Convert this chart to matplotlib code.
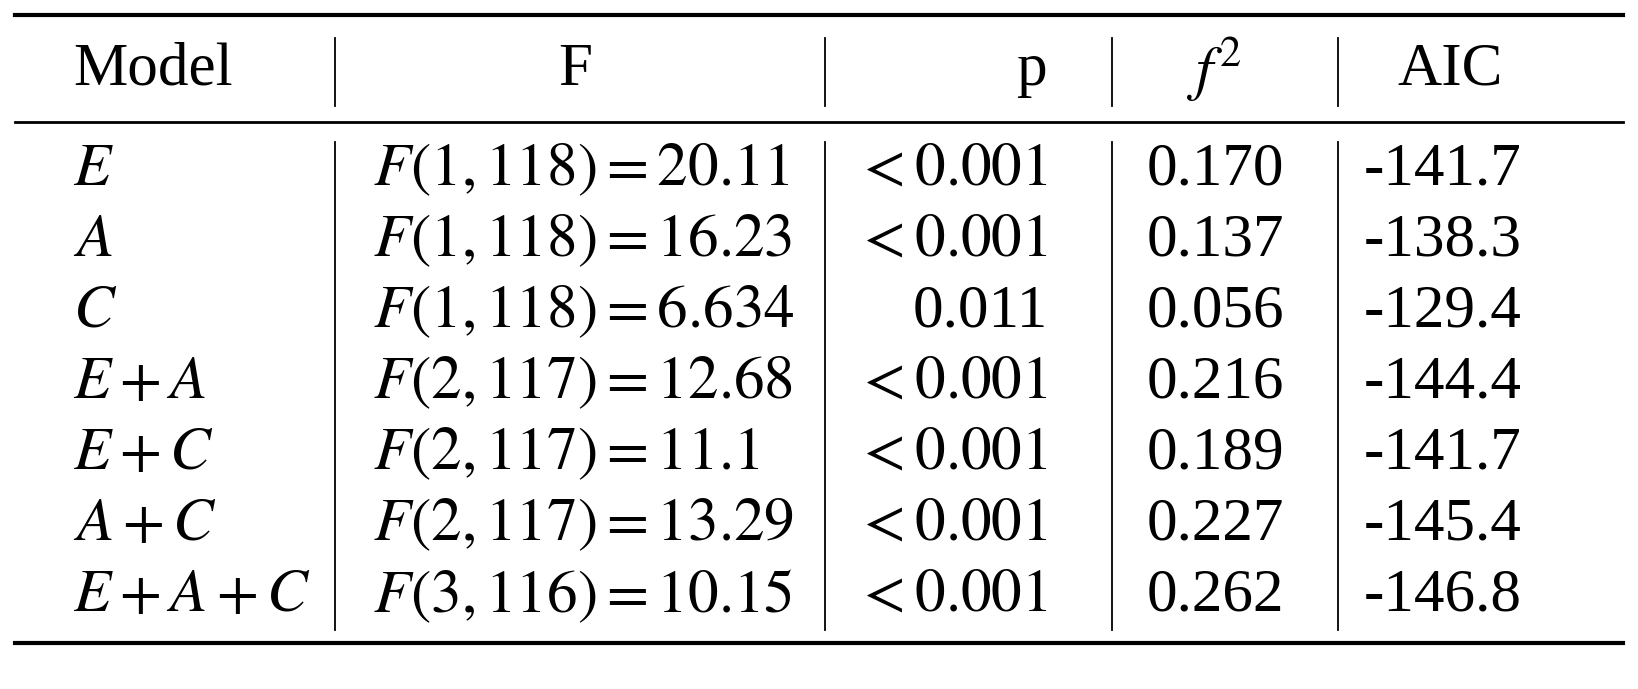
import matplotlib
matplotlib.use("Agg")
import matplotlib.pyplot as plt

plt.rcParams['mathtext.fontset'] = 'stix'
plt.rcParams['font.family'] = ['Liberation Serif', 'DejaVu Serif']

headers = ["Model", "F", "p", r"$f^2$", "AIC"]
models = [r"$E$", r"$A$", r"$C$", r"$E+A$", r"$E+C$", r"$A+C$", r"$E+A+C$"]
fvals = [r"$F(1,118)=20.11$", r"$F(1,118)=16.23$", r"$F(1,118)=6.634$",
         r"$F(2,117)=12.68$", r"$F(2,117)=11.1$", r"$F(2,117)=13.29$",
         r"$F(3,116)=10.15$"]
pvals = [r"$<0.001$", r"$<0.001$", "0.011", r"$<0.001$", r"$<0.001$", r"$<0.001$", r"$<0.001$"]
f2 = ["0.170", "0.137", "0.056", "0.216", "0.189", "0.227", "0.262"]
aic = ["-141.7", "-138.3", "-129.4", "-144.4", "-141.7", "-145.4", "-146.8"]

W, H = 1638, 689
fig = plt.figure(figsize=(W/100, H/100), dpi=100)
ax = fig.add_axes([0, 0, 1, 1])
ax.set_xlim(0, W); ax.set_ylim(H, 0); ax.axis('off')

fs = 44
x0, x1 = 15, 1623
ax.plot([x0, x1], [15, 15], color='black', lw=3)
ax.plot([x0, x1], [122, 122], color='black', lw=2)
ax.plot([x0, x1], [643, 643], color='black', lw=3)
vx = [335, 825, 1112, 1338]
for x in vx:
    ax.plot([x, x], [38, 106], color='black', lw=1.3)
    ax.plot([x, x], [142, 630], color='black', lw=1.3)

hy = 70
ax.text(73, hy, headers[0], fontsize=fs, ha='left', va='center')
ax.text(575, hy, headers[1], fontsize=fs, ha='center', va='center')
ax.text(1048, hy, headers[2], fontsize=fs, ha='right', va='center')
ax.text(1215, hy, headers[3], fontsize=fs, ha='center', va='center')
ax.text(1450, hy, headers[4], fontsize=fs, ha='center', va='center')

for i in range(len(models)):
    y = 170 + 71*i
    ax.text(73, y, models[i], fontsize=fs, ha='left', va='center')
    ax.text(373, y, fvals[i], fontsize=fs, ha='left', va='center')
    ax.text(1048, y, pvals[i], fontsize=fs, ha='right', va='center')
    ax.text(1215, y, f2[i], fontsize=fs, ha='center', va='center')
    ax.text(1522, y, aic[i], fontsize=fs, ha='right', va='center')

fig.savefig("out.png", dpi=100, facecolor='white')
